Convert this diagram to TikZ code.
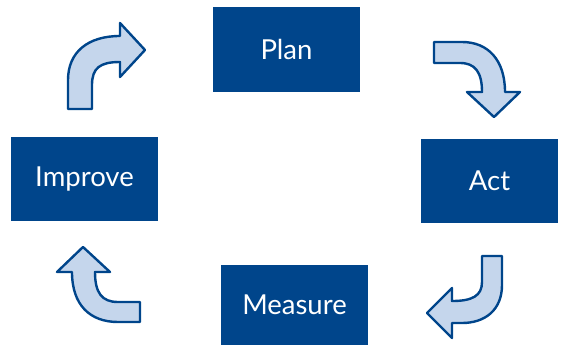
\documentclass[tikz,border=0pt]{standalone}
\usepackage{fontspec}
\setmainfont{Lato}
\definecolor{darkblue}{RGB}{0,69,139}
\definecolor{lightblue}{RGB}{197,214,236}

\begin{document}
\begin{tikzpicture}[x=1pt,y=-1pt,line join=round]
	\tikzstyle{stage}=[fill=darkblue,text=white,inner sep=0pt,minimum width=147pt,minimum height=84pt,font=\fontsize{27.5}{32}\selectfont]
	\tikzstyle{bent}=[fill=lightblue,draw=darkblue,line width=2.4pt]
	\useasboundingbox (0,0) rectangle (561,345);

	\node[stage] (P) at (286.5,49.5) {Plan};
	\node[stage, minimum width=137pt] (A) at (489.5,181) {Act};
	\node[stage, minimum height=80pt] (M) at (294.5,305) {Measure};
	\node[stage] (I) at (84.5,179) {Improve};

	% bent arrows between the stages
	\draw[bent] (68,109) -- (68,80) .. controls (68,52) and (88,36) .. (120,36) -- (120,23) -- (145,50) -- (120,77) -- (120,62) .. controls (100,62) and (92,68) .. (92,85) -- (92,109) -- cycle;
	\draw[bent] (434,42) -- (462,42) .. controls (488,42) and (505,60) .. (505,92) -- (520,92) -- (494,117) -- (467,92) -- (482,92) .. controls (482,72) and (475,63) .. (460,63) -- (434,63) -- cycle;
	\draw[bent] (482,256) -- (502,256) -- (502,285) .. controls (502,310) and (485,323) .. (462,323) -- (452,323) -- (452,338) -- (427,313) -- (452,288) -- (452,301) .. controls (472,301) and (482,296) .. (482,282) -- cycle;
	\draw[bent] (140,302) -- (118,302) .. controls (102,302) and (95,293) .. (95,272) -- (110,272) -- (83,247) -- (57,272) -- (72,272) .. controls (72,305) and (90,322) .. (118,322) -- (140,322) -- cycle;
\end{tikzpicture}
\end{document}
